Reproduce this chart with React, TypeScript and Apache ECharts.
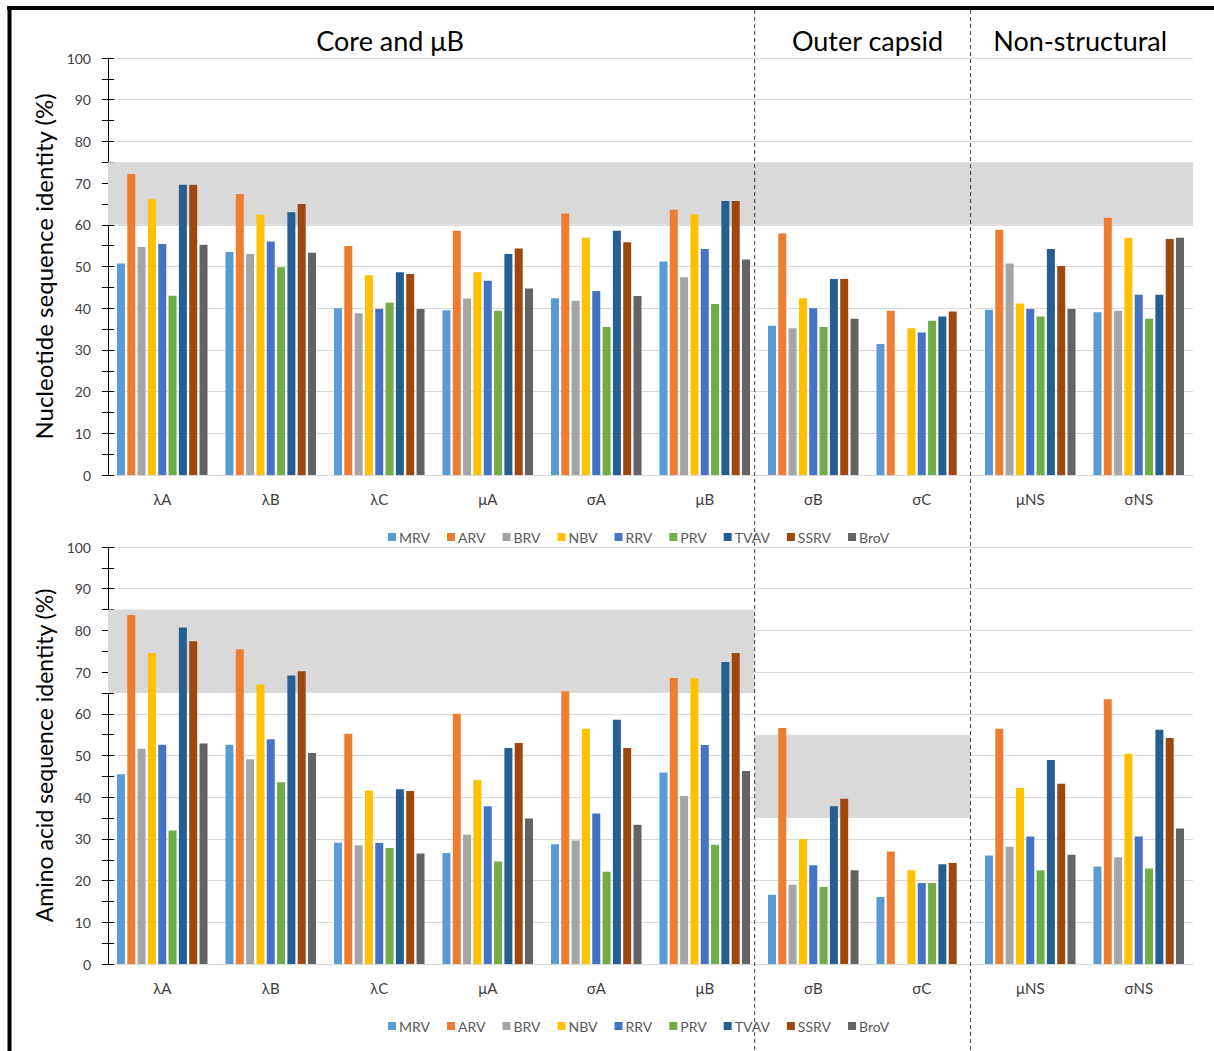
import React, { useEffect, useRef } from 'react';
import * as echarts from 'echarts';

const categories = ['λA', 'λB', 'λC', 'μA', 'σA', 'μB', 'σB', 'σC', 'μNS', 'σNS'];
const viruses = ['MRV', 'ARV', 'BRV', 'NBV', 'RRV', 'PRV', 'TVAV', 'SSRV', 'BroV'];
const colors = ['#5B9BD5', '#ED7D31', '#A5A5A5', '#FFC000', '#4472C4', '#70AD47', '#255E91', '#9E480E', '#636363'];
const yTicks = [0, 10, 20, 30, 40, 50, 60, 70, 80, 90, 100];

// Nucleotide sequence identity (%)
const ntMRV = [50.7, 53.5, 40.0, 39.5, 42.4, 51.2, 35.8, 31.4, 39.6, 39.0];
const ntARV = [72.2, 67.4, 54.9, 58.6, 62.7, 63.6, 57.9, 39.4, 58.8, 61.7];
const ntBRV = [54.7, 53.0, 38.8, 42.3, 41.8, 47.4, 35.2, null, 50.7, 39.4];
const ntNBV = [66.1, 62.4, 47.9, 48.6, 56.9, 62.5, 42.4, 35.2, 41.1, 56.9];
const ntRRV = [55.4, 56.0, 39.8, 46.6, 44.1, 54.2, 40.0, 34.2, 39.8, 43.2];
const ntPRV = [43.0, 49.8, 41.3, 39.4, 35.5, 41.0, 35.5, 37.0, 38.0, 37.5];
const ntTVAV = [69.6, 63.0, 48.6, 53.0, 58.6, 65.7, 47.0, 38.0, 54.2, 43.2];
const ntSSRV = [69.6, 65.0, 48.2, 54.3, 55.8, 65.7, 47.0, 39.2, 50.1, 56.6];
const ntBroV = [55.2, 53.3, 39.8, 44.7, 42.9, 51.7, 37.5, null, 39.8, 56.9];

// Amino acid sequence identity (%)
const aaMRV = [45.5, 52.6, 29.1, 26.6, 28.7, 45.9, 16.6, 16.1, 26.0, 23.4];
const aaARV = [83.7, 75.5, 55.2, 60.0, 65.4, 68.6, 56.6, 27.0, 56.4, 63.5];
const aaBRV = [51.6, 49.1, 28.5, 31.0, 29.6, 40.3, 19.0, null, 28.1, 25.6];
const aaNBV = [74.6, 67.0, 41.6, 44.1, 56.4, 68.5, 30.0, 22.5, 42.2, 50.4];
const aaRRV = [52.6, 53.9, 29.0, 37.8, 36.1, 52.5, 23.7, 19.4, 30.6, 30.6];
const aaPRV = [32.0, 43.6, 27.8, 24.6, 22.1, 28.6, 18.5, 19.4, 22.5, 22.9];
const aaTVAV = [80.7, 69.2, 41.9, 51.8, 58.6, 72.4, 37.8, 23.9, 48.9, 56.2];
const aaSSRV = [77.4, 70.2, 41.5, 53.0, 51.8, 74.6, 39.6, 24.2, 43.2, 54.2];
const aaBroV = [52.9, 50.6, 26.5, 34.9, 33.4, 46.3, 22.5, null, 26.2, 32.5];

// Shaded ranges [from, to] in %, and section extents in category units
const ntBand = [60, 75];
const aaCoreBand = [65, 85];
const aaOuterBand = [35, 55];
const sectionEdges = [5.96, 7.95];
const sectionTitles = ['Core and μB', 'Outer capsid', 'Non-structural'];
const sectionTitleCenters = [2.6, 7.0, 8.96];

const W = 1214;
const H = 1051;
const GL = 108;
const GR = 21;
const catW = (W - GL - GR) / categories.length;
const ux = (u: number) => GL + u * catW;
const FONT = 'Lato, "Noto Sans", sans-serif';

export default function App() {
  const ref = useRef<HTMLDivElement>(null);
  useEffect(() => {
    document.body.style.margin = '0';
    const chart = echarts.init(ref.current!, null, { renderer: 'svg' });
    const ntData = [ntMRV, ntARV, ntBRV, ntNBV, ntRRV, ntPRV, ntTVAV, ntSSRV, ntBroV];
    const aaData = [aaMRV, aaARV, aaBRV, aaNBV, aaRRV, aaPRV, aaTVAV, aaSSRV, aaBroV];

    const bars = (data: any[], xi: number, yi: number) =>
      viruses.map((v, i) => ({
        name: v,
        type: 'bar',
        xAxisIndex: xi,
        yAxisIndex: yi,
        data: data[i],
        barWidth: 8,
        barGap: '29%',
        itemStyle: { color: colors[i] },
        z: 3,
      }));

    const yMain = (gi: number, name: string, fs: number) => ({
      type: 'value',
      gridIndex: gi,
      min: yTicks[0],
      max: yTicks[yTicks.length - 1],
      interval: yTicks[1] - yTicks[0],
      name,
      nameLocation: 'middle',
      nameGap: 51,
      nameTextStyle: { fontSize: fs, color: '#000', fontFamily: FONT },
      axisLine: { show: true, lineStyle: { color: '#000', width: 1 } },
      axisTick: { show: true, length: 6, lineStyle: { color: '#000' } },
      minorTick: { show: true, splitNumber: 2, length: 6, lineStyle: { color: '#000' } },
      axisLabel: { fontSize: 14, color: '#404040', margin: 17, fontFamily: FONT },
      splitLine: { show: true, lineStyle: { color: '#d9d9d9', width: 1 } },
    });
    const yCross = (gi: number) => ({
      type: 'value',
      gridIndex: gi,
      min: yTicks[0],
      max: yTicks[yTicks.length - 1],
      interval: yTicks[1] - yTicks[0],
      axisLine: { show: false },
      axisTick: { show: true, inside: true, length: 6, lineStyle: { color: '#000' } },
      minorTick: { show: true, splitNumber: 2, length: 6, lineStyle: { color: '#000' } },
      axisLabel: { show: false },
      splitLine: { show: false },
      position: 'left',
    });
    const xCat = (gi: number) => ({
      type: 'category',
      gridIndex: gi,
      data: categories,
      axisLine: { show: true, lineStyle: { color: '#d9d9d9' } },
      axisTick: { show: false },
      axisLabel: { fontSize: 15, color: '#404040', margin: 16, fontFamily: FONT },
    });
    const xHidden = (gi: number) => ({
      type: 'value',
      gridIndex: gi,
      min: 0,
      max: categories.length,
      show: false,
    });
    const legend = (top: number) => ({
      data: viruses,
      left: 383,
      top,
      icon: 'rect',
      itemWidth: 8,
      itemHeight: 8,
      itemGap: 17,
      selectedMode: false,
      textStyle: { fontSize: 14, color: '#595959', fontFamily: FONT, padding: [0, 0, 0, -2] },
    });
    const band = (xi: number, yi: number, areas: any[]) => ({
      type: 'line',
      xAxisIndex: xi,
      yAxisIndex: yi,
      data: [],
      silent: true,
      z: 1,
      markArea: {
        silent: true,
        itemStyle: { color: '#d9d9d9' },
        data: areas,
      },
    });

    const graphics: any[] = [
      { type: 'line', shape: { x1: 7, y1: 8, x2: W, y2: 8 }, style: { stroke: '#000', lineWidth: 4 } },
      { type: 'line', shape: { x1: 9.5, y1: 6, x2: 9.5, y2: H }, style: { stroke: '#000', lineWidth: 4 } },
    ];
    sectionEdges.forEach((u) => {
      graphics.push({
        type: 'line',
        shape: { x1: ux(u), y1: 10, x2: ux(u), y2: H },
        style: { stroke: '#404040', lineWidth: 1, lineDash: [4, 3] },
        z: 10,
      });
    });
    sectionTitles.forEach((t, i) => {
      graphics.push({
        type: 'text',
        x: ux(sectionTitleCenters[i]),
        y: 40,
        style: { text: t, fontSize: 27, fill: '#000', fontFamily: FONT, textAlign: 'center', textVerticalAlign: 'middle' },
      });
    });

    chart.setOption({
      animation: false,
      textStyle: { fontFamily: FONT },
      grid: [
        { left: GL, right: GR, top: 58, height: 417 },
        { left: GL, right: GR, top: 547, height: 417 },
      ],
      xAxis: [xCat(0), xCat(1), xHidden(0), xHidden(1)],
      yAxis: [
        yMain(0, 'Nucleotide sequence identity (%)', 24),
        yCross(0),
        yMain(1, 'Amino acid sequence identity (%)', 23),
        yCross(1),
      ],
      legend: [legend(525), legend(1014)],
      series: [
        band(2, 0, [[{ xAxis: 0, yAxis: ntBand[0] }, { xAxis: categories.length, yAxis: ntBand[1] }]]),
        band(3, 2, [
          [{ xAxis: 0, yAxis: aaCoreBand[0] }, { xAxis: sectionEdges[0], yAxis: aaCoreBand[1] }],
          [{ xAxis: sectionEdges[0], yAxis: aaOuterBand[0] }, { xAxis: sectionEdges[1], yAxis: aaOuterBand[1] }],
        ]),
        ...bars(ntData, 0, 0),
        ...bars(aaData, 1, 2),
      ],
      graphic: graphics,
    });
    return () => chart.dispose();
  }, []);
  return <div ref={ref} style={{ width: W, height: H, background: '#fff' }} />;
}
